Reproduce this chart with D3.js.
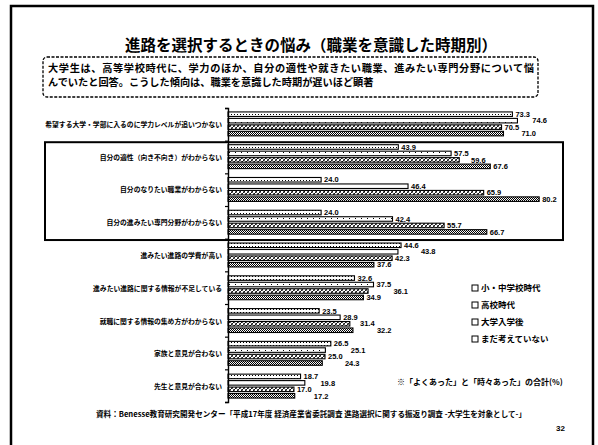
<!DOCTYPE html>
<html lang="ja">
<head>
<meta charset="utf-8">
<script src="https://cdn.jsdelivr.net/npm/d3@7"></script>
<style>
  html, body { margin: 0; padding: 0; background: #fff; }
  svg { display: block; font-family: "Noto Sans CJK JP", "Noto Sans", sans-serif; }
</style>
</head>
<body>
<svg id="chart" width="598" height="445"></svg>
<script>
// 悩みの項目
const categories = [
  "希望する大学・学部に入るのに学力レベルが追いつかない",
  "自分の適性（向き不向き）がわからない",
  "自分のなりたい職業がわからない",
  "自分の進みたい専門分野がわからない",
  "進みたい進路の学費が高い",
  "進みたい進路に関する情報が不足している",
  "就職に関する情報の集め方がわからない",
  "家族と意見が合わない",
  "先生と意見が合わない"
];
// 職業を意識した時期
const seriesNames = ["小・中学校時代", "高校時代", "大学入学後", "まだ考えていない"];
const valuesElementary = [73.3, 43.9, 24.0, 24.0, 44.6, 32.6, 23.5, 26.5, 18.7];
const valuesHighSchool = [74.6, 57.5, 46.4, 42.4, 43.8, 37.5, 28.9, 25.1, 19.8];
const valuesUniversity = [70.5, 59.6, 65.9, 55.7, 42.3, 36.1, 31.4, 25.0, 17.0];
const valuesNotYet     = [71.0, 67.6, 80.2, 66.7, 37.6, 34.9, 32.2, 24.3, 17.2];
const seriesValues = [valuesElementary, valuesHighSchool, valuesUniversity, valuesNotYet];
const highlighted = [1, 2, 3];

const titleText = "進路を選択するときの悩み（職業を意識した時期別）";
const summaryLines = [
  "大学生は、高等学校時代に、学力のほか、自分の適性や就きたい職業、進みたい専門分野について悩",
  "んでいたと回答。こうした傾向は、職業を意識した時期が遅いほど顕著"
];
const noteText = "※「よくあった」と「時々あった」の合計(%)";
const sourceText = "資料：Benesse教育研究開発センター「平成17年度 経済産業省委託調査 進路選択に関する振返り調査 -大学生を対象として-」";
const pageNumber = "32";

const svg = d3.select("#chart");
const defs = svg.append("defs");

// Halftone-like fills for the four series
function pattern(id, size, draw) {
  const p = defs.append("pattern").attr("id", id)
    .attr("patternUnits", "userSpaceOnUse").attr("width", size).attr("height", size);
  p.append("rect").attr("width", size).attr("height", size).attr("fill", "#fff");
  draw(p);
}
pattern("fill0", 3, p => {
  p.append("rect").attr("x", 0).attr("y", 0).attr("width", 1).attr("height", 1).attr("fill", "#000");
});
pattern("fill1", 6, p => {
  p.append("rect").attr("x", 1).attr("y", 2).attr("width", 1).attr("height", 1).attr("fill", "#000");
});
pattern("fill2", 4, p => {
  p.append("path").attr("d", "M0,4 L4,0 M-1,1 L1,-1 M3,5 L5,3").attr("stroke", "#000").attr("stroke-width", 0.9);
  p.append("path").attr("d", "M0,0 L4,4").attr("stroke", "#000").attr("stroke-width", 0.6);
});
pattern("fill3", 2, p => {
  p.append("rect").attr("x", 0).attr("y", 0).attr("width", 1).attr("height", 1).attr("fill", "#000");
  p.append("rect").attr("x", 1).attr("y", 1).attr("width", 1).attr("height", 1).attr("fill", "#000");
});

// Slide frame
svg.append("path")
  .attr("d", "M11,446 L11,6 L593,6 L593,446")
  .attr("fill", "none").attr("stroke", "#000").attr("stroke-width", 2.5);

// Title
svg.append("text")
  .attr("x", 311).attr("y", 51)
  .attr("text-anchor", "middle")
  .attr("font-size", 15.5).attr("font-weight", 700)
  .text(titleText);

// Summary box
svg.append("rect")
  .attr("x", 43).attr("y", 57).attr("width", 495).attr("height", 40)
  .attr("rx", 4)
  .attr("fill", "#fff").attr("stroke", "#000").attr("stroke-width", 1.3)
  .attr("stroke-dasharray", "3,1.5");
svg.append("g").selectAll("text").data(summaryLines).join("text")
  .attr("x", 48).attr("y", (d, i) => 72 + i * 14)
  .attr("font-size", 10.2).attr("font-weight", 700)
  .attr("textLength", (d, i) => i === 0 ? 486 : null)
  .attr("lengthAdjust", "spacing")
  .text(d => d);

// Scales
const x = d3.scaleLinear().domain([0, 100]).range([228, 616]);
const y = d3.scaleBand().domain(d3.range(categories.length))
  .range([108, 402]).paddingInner(0.27).paddingOuter(0.12);
const ySub = d3.scaleBand().domain(d3.range(seriesNames.length))
  .range([0, y.bandwidth()]).paddingInner(0.3);

// Highlight frame around the three "わからない" items
const hTop = y(highlighted[0]) - 2.5;
const hBottom = y(highlighted[highlighted.length - 1] + 1) - 3;
svg.append("rect")
  .attr("x", 45).attr("y", hTop)
  .attr("width", 518).attr("height", hBottom - hTop)
  .attr("fill", "none").attr("stroke", "#000").attr("stroke-width", 2);

// Bars
const rows = categories.flatMap((c, ci) =>
  seriesValues.map((vals, si) => ({ ci, si, v: vals[ci] })));

const barG = svg.append("g");
barG.selectAll("rect").data(rows).join("rect")
  .attr("x", x(0))
  .attr("y", d => y(d.ci) + ySub(d.si))
  .attr("width", d => x(d.v) - x(0))
  .attr("height", ySub.bandwidth())
  .attr("fill", d => `url(#fill${d.si})`)
  .attr("stroke", "#000").attr("stroke-width", 1.1);

// Value labels: nudge a label to the right when it would collide with one above it
const labelSize = 7.5;
const labelH = labelSize * 0.95;
const labelW = s => s.length * labelSize * 0.53;
rows.forEach(d => {
  d.label = d.v.toFixed(1);
  d.ly = y(d.ci) + ySub(d.si) + ySub.bandwidth() / 2 + labelSize * 0.36;
  d.lx = x(d.v) + 3;
});
d3.groups(rows, d => d.ci).forEach(([, grp]) => {
  grp.forEach((d, i) => {
    for (let k = 0; k < i; k++) {
      const o = grp[k];
      const vOverlap = Math.abs(o.ly - d.ly) < labelH;
      const hOverlap = d.lx < o.lx + labelW(o.label) && o.lx < d.lx + labelW(d.label);
      if (vOverlap && hOverlap) d.lx = o.lx + labelW(o.label) + 1;
    }
  });
});
barG.selectAll("text").data(rows).join("text")
  .attr("x", d => d.lx)
  .attr("y", d => d.ly)
  .attr("font-size", labelSize).attr("font-weight", 700)
  .attr("font-family", "Liberation Sans, Arial, sans-serif")
  .text(d => d.label);

// Category axis
const boundaries = d3.range(categories.length + 1).map(i =>
  i === 0 ? y.range()[0] : i === categories.length ? y.range()[1] : y(i) - y.step() * y.paddingInner() / 2);
const axisScale = d3.scaleLinear().domain([0, categories.length]).range([boundaries[0], boundaries[categories.length]]);
const axisG = svg.append("g").attr("transform", `translate(${x(0)},0)`)
  .call(d3.axisLeft(axisScale).tickValues(d3.range(categories.length + 1)).tickSize(3).tickFormat(""));
axisG.select(".domain").attr("stroke-width", 1.4);
axisG.selectAll(".tick line").attr("stroke-width", 1.2);

svg.append("g").selectAll("text").data(categories).join("text")
  .attr("x", 222)
  .attr("y", (d, i) => y(i) + y.bandwidth() / 2 + 3)
  .attr("text-anchor", "end")
  .attr("font-size", 6.8).attr("font-weight", 700)
  .text(d => d);

// Legend
const legend = svg.append("g").attr("transform", "translate(472,290)");
const li = legend.selectAll("g").data(seriesNames).join("g")
  .attr("transform", (d, i) => `translate(0,${i * 17})`);
li.append("rect").attr("x", 0).attr("y", -5).attr("width", 6).attr("height", 6)
  .attr("fill", "#fff").attr("stroke", "#000").attr("stroke-width", 1);
li.append("text").attr("x", 9).attr("y", 1)
  .attr("font-size", 8.5).attr("font-weight", 700)
  .text(d => d);

// Note, source, page number
svg.append("text").attr("x", 397).attr("y", 385)
  .attr("font-size", 8).attr("font-weight", 700).text(noteText);
svg.append("text").attr("x", 311).attr("y", 417).attr("text-anchor", "middle")
  .attr("font-size", 7.6).attr("font-weight", 700).text(sourceText);
svg.append("text").attr("x", 556).attr("y", 431)
  .attr("font-size", 8).attr("font-weight", 700)
  .attr("font-family", "Liberation Sans, Arial, sans-serif").text(pageNumber);
</script>
</body>
</html>
